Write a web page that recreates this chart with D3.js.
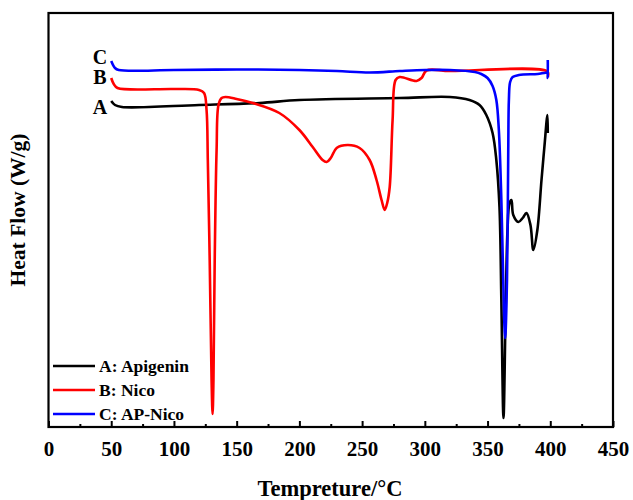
<!DOCTYPE html>
<html><head><meta charset="utf-8">
<script src="https://cdn.jsdelivr.net/npm/d3@7"></script>
<style>body{margin:0;background:#fff}svg{display:block}text{font-family:"Liberation Serif","Times New Roman",serif;font-weight:bold}</style>
</head><body>
<script>
// Temperature (°C) / heat flow (W/g, arbitrary offset) pairs
const seriesNames = ["A: Apigenin", "B: Nico", "C: AP-Nico"];
const curveLetters = ["A", "B", "C"];
const apigenin = [[50,-0.88],[53,-0.92],[58.5,-0.94],[120,-0.92],[168,-0.90],[200,-0.87],[280,-0.85],[320,-0.84],[335.6,-0.87],[343.6,-0.92],[349,-1.02],[354,-1.20],[357,-1.47],[359.5,-1.94],[361,-2.87],[362.7,-4.05],[364.3,-3.07],[365.9,-2.17],[367.5,-1.90],[369,-1.87],[370.5,-2.02],[374.6,-2.09],[378,-2.05],[381,-2.00],[384.2,-2.12],[386.5,-2.37],[389.7,-2.17],[393,-1.67],[395.3,-1.34],[397.7,-1.02],[398,-1.20]];
const nico = [[50,-0.65],[52,-0.71],[55,-0.75],[100,-0.76],[120,-0.77],[124,-0.80],[126,-0.97],[127,-1.47],[128.5,-2.47],[130,-3.67],[130.8,-4.01],[131.5,-3.67],[132.5,-2.47],[134,-1.37],[135.5,-0.92],[138,-0.85],[141,-0.84],[150,-0.86],[163,-0.90],[184,-1.00],[200,-1.17],[210.6,-1.34],[218.5,-1.47],[221.7,-1.49],[225,-1.45],[229.7,-1.35],[238.5,-1.32],[248,-1.35],[256,-1.47],[261.5,-1.67],[265.5,-1.87],[268,-1.97],[270,-1.90],[272,-1.74],[274.3,-1.07],[276.7,-0.67],[280,-0.64],[293.4,-0.68],[297.4,-0.65],[301.4,-0.575],[320,-0.58],[397.7,-0.585],[398,-0.64]];
const apNico = [[50,-0.48],[53,-0.55],[56,-0.57],[100,-0.57],[150,-0.565],[200,-0.57],[230,-0.58],[256,-0.595],[280,-0.58],[300,-0.57],[320,-0.57],[340,-0.59],[345,-0.61],[350,-0.65],[354,-0.73],[357,-0.87],[359,-1.17],[361,-1.87],[362.5,-2.67],[364,-3.25],[365.5,-2.67],[366.5,-1.37],[367,-0.87],[368,-0.69],[370,-0.64],[375,-0.62],[390,-0.61],[397.5,-0.60],[398,-0.65],[398,-0.47]];
const colors = ["#000000", "#ff0000", "#0000ff"];
const xTicks = [0,50,100,150,200,250,300,350,400,450];
const xMinorTicks = [25,75,125,175,225,275,325,375,425];
const xDomain = [0, 450];
const yDomain = [-4.14, 0];

const W = 633, H = 500;
const m = {left:48.5, right:613, top:13, bottom:427};
const svg = d3.select("body").append("svg").attr("width", W).attr("height", H);
const x = d3.scaleLinear().domain(xDomain).range([m.left, m.right]);
const y = d3.scaleLinear().domain(yDomain).range([m.bottom, m.top]);

const line = d3.line().x(d => x(d[0])).y(d => y(d[1])).curve(d3.curveCatmullRom.alpha(0.5));
const data = [apigenin, nico, apNico];
data.forEach((s, i) => {
  svg.append("path").datum(s).attr("d", line).attr("fill", "none")
    .attr("stroke", colors[i]).attr("stroke-width", 2.6).attr("stroke-linejoin", "round");
});

// curve letters at the left of each trace
data.forEach((s, i) => {
  svg.append("text").attr("x", 100).attr("y", y(s[0][1]) + (i===0?13:(i===1?6:3)))
    .attr("text-anchor", "middle").attr("font-size", 20).text(curveLetters[i]);
});

// frame
svg.append("rect").attr("x", m.left).attr("y", m.top).attr("width", m.right - m.left)
  .attr("height", m.bottom - m.top).attr("fill", "none").attr("stroke", "#000").attr("stroke-width", 2.2);

// x axis
const xAxis = d3.axisBottom(x).tickValues(xTicks).tickSize(-6).tickPadding(14).tickFormat(d3.format("d"));
const gx = svg.append("g").attr("transform", `translate(0,${m.bottom})`).call(xAxis);
gx.select(".domain").remove();
gx.selectAll("line").attr("stroke-width", 2);
gx.selectAll("text").attr("font-size", 21).attr("font-family", "Liberation Serif").attr("font-weight", "bold").attr("fill", "#000");
const gxm = svg.append("g").attr("transform", `translate(0,${m.bottom})`)
  .call(d3.axisBottom(x).tickValues(xMinorTicks).tickSize(-3).tickFormat(""));
gxm.select(".domain").remove();
gxm.selectAll("line").attr("stroke-width", 2);

// axis titles
svg.append("text").attr("x", 330).attr("y", 496).attr("text-anchor", "middle")
  .attr("font-size", 22.5).text("Tempreture/°C");
svg.append("text").attr("transform", `translate(25,210) rotate(-90)`)
  .attr("text-anchor", "middle").attr("font-size", 21.5).text("Heat Flow (W/g)");

// legend
const legY = [366, 390, 414];
seriesNames.forEach((n, i) => {
  svg.append("line").attr("x1", 53).attr("x2", 95).attr("y1", legY[i]).attr("y2", legY[i])
    .attr("stroke", colors[i]).attr("stroke-width", 2.6);
  svg.append("text").attr("x", 99).attr("y", legY[i] + 6).attr("font-size", 17.5).text(n);
});
</script>
</body></html>
